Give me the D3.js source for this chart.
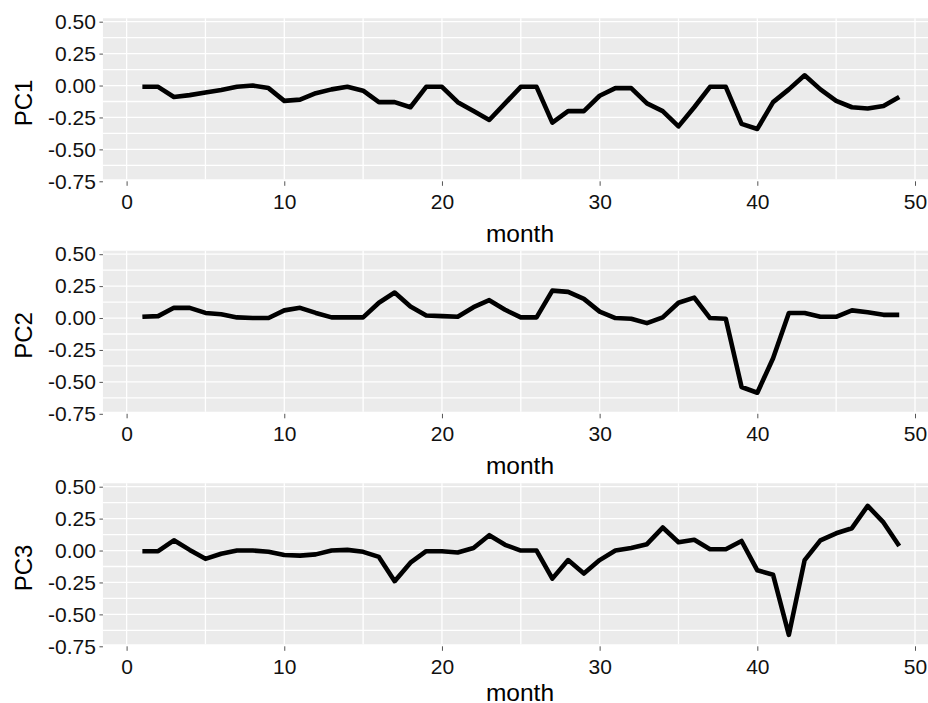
<!DOCTYPE html>
<html>
<head>
<meta charset="utf-8">
<script src="https://cdn.jsdelivr.net/npm/d3@7"></script>
<style>
  body { margin: 0; background: #fff; }
  svg { display: block; font-family: "Liberation Sans", Arial, sans-serif; }
</style>
</head>
<body>
<svg id="chart" width="928" height="703"></svg>
<script>
var months = [1, 2, 3, 4, 5, 6, 7, 8, 9, 10, 11, 12, 13, 14, 15, 16, 17, 18, 19, 20,
  21, 22, 23, 24, 25, 26, 27, 28, 29, 30, 31, 32, 33, 34, 35, 36, 37, 38, 39, 40,
  41, 42, 43, 44, 45, 46, 47, 48, 49];

var pc1 = [-0.01, -0.01, -0.09, -0.075, -0.055, -0.035, -0.01, 0.0, -0.02, -0.12,
  -0.11, -0.06, -0.03, -0.01, -0.04, -0.13, -0.13, -0.17, -0.01, -0.01,
  -0.13, -0.2, -0.27, -0.14, -0.01, -0.01, -0.29, -0.2, -0.2, -0.08,
  -0.02, -0.02, -0.14, -0.2, -0.32, -0.17, -0.01, -0.01, -0.3, -0.34,
  -0.13, -0.03, 0.08, -0.03, -0.12, -0.17, -0.18, -0.16, -0.09];

var pc2 = [0.01, 0.015, 0.08, 0.08, 0.04, 0.03, 0.005, 0.0, 0.0, 0.06,
  0.08, 0.04, 0.005, 0.005, 0.005, 0.12, 0.2, 0.09, 0.02, 0.015,
  0.01, 0.085, 0.14, 0.065, 0.005, 0.005, 0.215, 0.205, 0.15, 0.05,
  0.0, -0.005, -0.04, 0.005, 0.12, 0.16, 0.0, -0.005, -0.54, -0.585,
  -0.315, 0.04, 0.04, 0.01, 0.01, 0.06, 0.045, 0.025, 0.025];

var pc3 = [-0.005, -0.005, 0.08, 0.005, -0.065, -0.025, 0.0, 0.0, -0.01, -0.035,
  -0.04, -0.03, 0.0, 0.005, -0.01, -0.05, -0.24, -0.095, -0.005, -0.005,
  -0.015, 0.02, 0.12, 0.045, 0.0, 0.0, -0.22, -0.075, -0.18, -0.075,
  0.0, 0.02, 0.05, 0.18, 0.065, 0.085, 0.01, 0.01, 0.075, -0.155,
  -0.19, -0.66, -0.075, 0.08, 0.135, 0.175, 0.35, 0.22, 0.035];

var seriesNames = ['PC1', 'PC2', 'PC3'];
var xTicks = [0, 10, 20, 30, 40, 50];
var xMinor = [5, 15, 25, 35, 45];
var yTicks = [0.5, 0.25, 0, -0.25, -0.5, -0.75];
var yMinor = [0.375, 0.125, -0.125, -0.375, -0.625];

var svg = d3.select('#chart');
var height = +svg.attr('height');
var panelStep = 232.5;

var x = d3.scaleLinear().domain([0, 50]).range([126.6, 915]);
// one y scale, every panel is shifted down by panelStep
var y = d3.scaleLinear().domain([-0.75, 0.5]).range([181.3, 21.7]);

var panelLeft = x(-1.5),
    panelRight = x(51.4),
    panelTop = y(0.527),
    panelBottom = y(-0.734);

var fmt = function (d) { return d.toFixed(2); };

var line = d3.line()
  .x(function (d) { return x(d[0]); })
  .y(function (d) { return y(d[1]); });

var seriesValues = [pc1, pc2, pc3];

seriesNames.forEach(function (name, i) {
  var offset = i * panelStep;
  var g = svg.append('g')
    .attr('transform', 'translate(0,' + offset + ')');

  g.append('rect')
    .attr('x', panelLeft)
    .attr('y', panelTop)
    .attr('width', panelRight - panelLeft)
    .attr('height', panelBottom - panelTop)
    .attr('fill', '#ebebeb');

  // grid
  g.selectAll('line.hgrid')
    .data(yTicks.concat(yMinor).filter(function (d) { return y(d) < panelBottom; }))
    .enter().append('line')
      .attr('class', 'hgrid')
      .attr('x1', panelLeft).attr('x2', panelRight)
      .attr('y1', function (d) { return y(d); })
      .attr('y2', function (d) { return y(d); })
      .attr('stroke', '#fff')
      .attr('stroke-width', 1.3);

  g.selectAll('line.vgrid')
    .data(xTicks.concat(xMinor))
    .enter().append('line')
      .attr('class', 'vgrid')
      .attr('y1', panelTop).attr('y2', panelBottom)
      .attr('x1', function (d) { return x(d); })
      .attr('x2', function (d) { return x(d); })
      .attr('stroke', '#fff')
      .attr('stroke-width', 1.3);

  g.append('path')
    .datum(months.map(function (m, j) { return [m, seriesValues[i][j]]; }))
    .attr('d', line)
    .attr('fill', 'none')
    .attr('stroke', '#000')
    .attr('stroke-width', 4.6)
    .attr('stroke-linejoin', 'round');

  // axes
  var yAxis = g.append('g')
    .attr('transform', 'translate(' + panelLeft + ',0)')
    .call(d3.axisLeft(y).tickValues(yTicks).tickFormat(fmt).tickSize(3.5).tickPadding(3.5));

  var xAxis = g.append('g')
    .attr('transform', 'translate(0,' + y(-0.75) + ')')
    .call(d3.axisBottom(x).tickValues(xTicks).tickSize(4.5).tickPadding(8.2));

  [yAxis, xAxis].forEach(function (a) {
    a.select('.domain').remove();
    a.selectAll('line').attr('stroke', '#555');
    a.selectAll('text')
      .attr('fill', '#111')
      .style('font-size', '21px')
      .style('font-family', '"Liberation Sans", Arial, sans-serif');
  });

  // keep the last title inside the frame
  var titleY = Math.min(y(-0.75) + 60.3, height - 2 - offset);
  g.append('text')
    .attr('x', (panelLeft + panelRight) / 2)
    .attr('y', titleY)
    .attr('text-anchor', 'middle')
    .attr('fill', '#000')
    .style('font-size', '24.5px')
    .text('month');

  g.append('text')
    .attr('transform', 'translate(31.5,103) rotate(-90)')
    .attr('text-anchor', 'middle')
    .attr('fill', '#000')
    .style('font-size', '24px')
    .text(name);
});
</script>
</body>
</html>
